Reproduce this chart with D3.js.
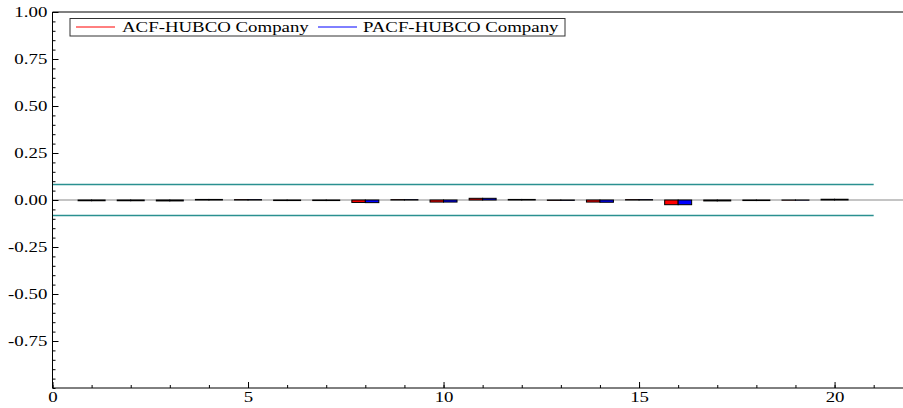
<!DOCTYPE html>
<html>
<head>
<meta charset="utf-8">
<script src="https://cdn.jsdelivr.net/npm/d3@7"></script>
<style>
  html, body { margin: 0; padding: 0; background: #fff; }
  svg { display: block; }
  text { font-family: "Liberation Serif", "Times New Roman", serif; }
</style>
</head>
<body>
<svg id="chart" width="903" height="408"></svg>
<script>
// Correlogram of HUBCO Company returns: ACF and PACF by lag
const lags = [1, 2, 3, 4, 5, 6, 7, 8, 9, 10, 11, 12, 13, 14, 15, 16, 17, 18, 19, 20];
const acfValues  = [-0.004, -0.004, -0.005, 0.003, 0.002, -0.003, -0.003, -0.013, 0.002, -0.011,
                    0.009, 0.003, -0.002, -0.011, 0.002, -0.025, -0.005, -0.003, -0.001, 0.004];
const pacfValues = [-0.004, -0.004, -0.005, 0.003, 0.002, -0.003, -0.003, -0.014, 0.002, -0.011,
                    0.009, 0.003, -0.002, -0.012, 0.002, -0.025, -0.005, -0.003, -0.001, 0.004];
const confBand = 0.083;          // approximate 95% band
const bandLagRange = [0, 21];
const yTickValues = [-0.75, -0.5, -0.25, 0, 0.25, 0.5, 0.75, 1.0];
const xTickValues = [0, 5, 10, 15, 20];
const seriesNames = ["ACF-HUBCO Company", "PACF-HUBCO Company"];
const seriesColors = ["#ff0000", "#0000ff"];

(function draw() {
  const plotLeft = 52.5, plotRight = 903, plotTop = 12, plotBottom = 388;
  const svg = d3.select("#chart");
  const textScale = "scale(1.3,1)";
  const fontSize = "14.5px";

  const x = d3.scaleLinear().domain([0, 21.75]).range([plotLeft, plotRight]);
  const y = d3.scaleLinear().domain([-1, 1]).range([plotBottom, plotTop]);

  // zero line
  svg.append("line")
    .attr("x1", x(0)).attr("x2", plotRight)
    .attr("y1", y(0)).attr("y2", y(0))
    .attr("stroke", "#c4c4c4").attr("stroke-width", 2);

  // confidence bands
  [confBand, -confBand].forEach(v => {
    svg.append("line")
      .attr("x1", x(bandLagRange[0])).attr("x2", x(bandLagRange[1]))
      .attr("y1", y(v)).attr("y2", y(v))
      .attr("stroke", "#2a9090").attr("stroke-width", 1.5);
  });

  // paired bars: ACF to the left of each lag, PACF to the right
  const halfWidth = 0.345;
  const series = [acfValues, pacfValues];
  series.forEach((vals, si) => {
    svg.append("g").selectAll("rect")
      .data(lags.map((lag, i) => ({ lag, v: vals[i] })))
      .join("rect")
      .attr("x", d => si === 0 ? x(d.lag - halfWidth) : x(d.lag))
      .attr("width", x(halfWidth) - x(0))
      .attr("y", d => y(Math.max(0, d.v)))
      .attr("height", d => Math.abs(y(d.v) - y(0)))
      .attr("fill", seriesColors[si])
      .attr("stroke", "#000")
      .attr("stroke-width", 1);
  });

  // top frame line
  svg.append("line")
    .attr("x1", plotLeft).attr("x2", plotRight)
    .attr("y1", plotTop).attr("y2", plotTop)
    .attr("stroke", "#000").attr("stroke-width", 1);

  // y axis (ticks pointing inward)
  const yMinor = d3.range(-20, 21).map(i => i * 0.05);
  svg.append("g")
    .attr("transform", `translate(${plotLeft},0)`)
    .call(d3.axisLeft(y).tickValues(yMinor).tickSize(-3).tickFormat(""))
    .call(g => g.select(".domain").remove());
  const yAxis = svg.append("g")
    .attr("transform", `translate(${plotLeft},0)`)
    .call(d3.axisLeft(y).tickValues(yTickValues).tickSize(-6).tickPadding(4)
          .tickFormat(d => d.toFixed(2)));
  yAxis.select(".domain").attr("d", `M0,${plotTop}V${plotBottom}`);
  yAxis.selectAll("text")
    .attr("font-size", fontSize).attr("fill", "#000")
    .attr("font-family", "Liberation Serif")
    .attr("transform", textScale);

  // x axis (ticks pointing inward)
  const xMinor = d3.range(0, 22);
  svg.append("g")
    .attr("transform", `translate(0,${plotBottom})`)
    .call(d3.axisBottom(x).tickValues(xMinor).tickSize(-3).tickFormat(""))
    .call(g => g.select(".domain").remove());
  const xAxis = svg.append("g")
    .attr("transform", `translate(0,${plotBottom})`)
    .call(d3.axisBottom(x).tickValues(xTickValues).tickSize(-6).tickPadding(4)
          .tickFormat(d => String(d)));
  xAxis.select(".domain").attr("d", `M${plotLeft},0H${plotRight}`);
  xAxis.selectAll("text")
    .attr("font-size", fontSize).attr("fill", "#000")
    .attr("font-family", "Liberation Serif")
    .attr("transform", textScale);

  // legend
  const legend = svg.append("g");
  legend.append("rect")
    .attr("x", 70).attr("y", 18.5).attr("width", 495).attr("height", 17.5)
    .attr("fill", "#fff").attr("stroke", "#333").attr("stroke-width", 1);
  const legendItems = [
    { name: seriesNames[0], color: seriesColors[0], x0: 76, x1: 115, tx: 122 },
    { name: seriesNames[1], color: seriesColors[1], x0: 318, x1: 357, tx: 363 }
  ];
  legendItems.forEach(it => {
    legend.append("line")
      .attr("x1", it.x0).attr("x2", it.x1).attr("y1", 27).attr("y2", 27)
      .attr("stroke", it.color).attr("stroke-width", 1);
    legend.append("text")
      .attr("transform", `translate(${it.tx},32.3) ${textScale}`)
      .attr("font-size", fontSize).attr("fill", "#000")
      .text(it.name);
  });
})();
</script>
</body>
</html>
